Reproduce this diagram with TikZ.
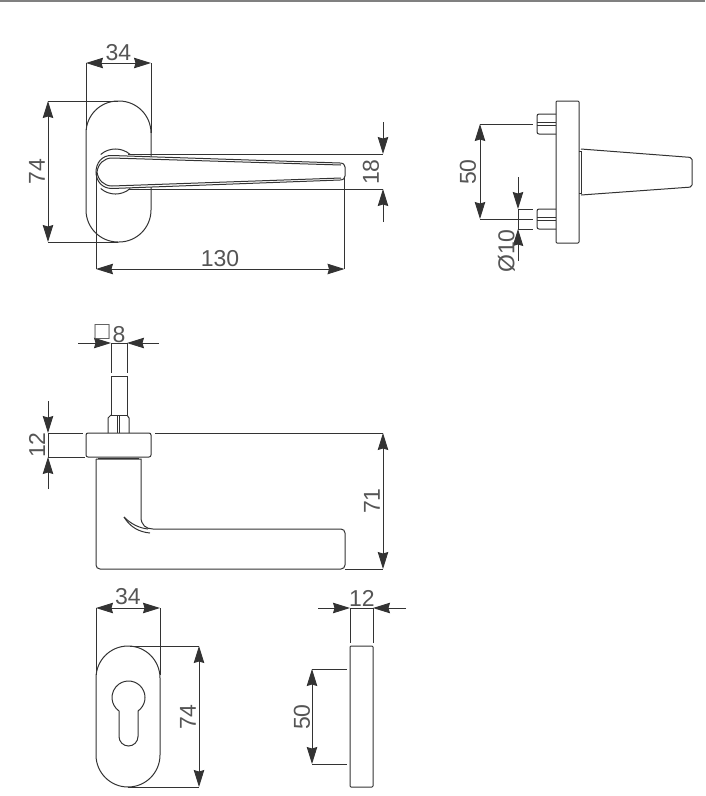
\documentclass[tikz,border=0pt]{standalone}
\usepackage{fontspec}
\setmainfont{Liberation Sans}
\usetikzlibrary{arrows.meta}
\definecolor{linegray}{HTML}{333333}
\definecolor{textgray}{HTML}{555555}
\tikzset{
    partline/.style={draw=linegray,line width=1pt},
    extline/.style={draw=linegray,line width=0.9pt},
    dimboth/.style={extline,{Stealth[length=17pt,width=10.5pt,inset=1.5pt]}-{Stealth[length=17pt,width=10.5pt,inset=1.5pt]}},
    dimend/.style={extline,-{Stealth[length=17pt,width=10.5pt,inset=1.5pt]}},
    dimlabel/.style={text=textgray,font=\fontsize{23}{25}\selectfont,inner sep=0pt},
    dimvert/.style={dimlabel,rotate=90}
}
\begin{document}
\begin{tikzpicture}[x=1pt,y=-1pt]
\useasboundingbox (0,0) rectangle (705,796);
\fill[gray] (0,0) rectangle (705,1.5);

% ----------------------------------------------------------
% Handle, front view
% ----------------------------------------------------------
\draw[partline,rounded corners=32pt] (86,101) rectangle (151,242);
\draw[partline] (100.7,154.5) arc (-131:-49:22.5);
\draw[partline] (100.7,188.5) arc (131:49:22.5);
\draw[partline,fill=white] (340,163) -- (112,155.5) .. controls (102,155) and (96,163) .. (96,172)
    .. controls (96,181) and (102,188.5) .. (112,188.5) -- (340,180)
    .. controls (343.5,180) and (345,178) .. (345,176) -- (345,167)
    .. controls (345,165) and (343.5,163) .. (340,163) -- cycle;
\draw[partline] (341,165) -- (112,158) .. controls (104,158) and (98,164) .. (97,172)
    .. controls (98,180) and (104,186) .. (112,186) -- (341,178);

% Extension lines
\draw[extline] (86,63) -- (86,130);
\draw[extline] (151,63) -- (151,133);
\draw[extline] (48,101) -- (118,101);
\draw[extline] (48,242) -- (118,242);
\draw[extline] (128,154) -- (383,154);
\draw[extline] (128,189) -- (383,189);
\draw[extline] (96,172) -- (96,269);
\draw[extline] (344.5,178) -- (344.5,269);

% Dimensions
\draw[dimboth] (86,63) -- (151,63);
\draw[dimboth] (48,101) -- (48,242);
\draw[dimboth] (96,269) -- (344.5,269);
\draw[dimend] (383,122) -- (383,154);
\draw[dimend] (383,222) -- (383,189);
\node[dimlabel] (lbltopwidth) at (118.5,52.5) {34};
\node[dimvert] (lbltopheight) at (37,171.5) {74};
\node[dimlabel] (lbltoplength) at (220,258.5) {130};
\node[dimvert] (lbltopgrip) at (371,172) {18};

% ----------------------------------------------------------
% Handle, side view with pins
% ----------------------------------------------------------
\draw[partline,rounded corners=1pt] (556,101) rectangle (579,243);
\draw[partline] (579,151) -- (581,151) -- (581,193) -- (579,193);
\draw[partline,rounded corners=2pt] (581,149) -- (692,157.5) -- (692,187) -- (581,195);

% Upper and lower pin
\foreach \y in {114,209} {
    \draw[partline,rounded corners=2pt] (556,\y) -- (537,\y) -- (537,\y+20) -- (556,\y+20);
    \draw[partline] (537,\y+8) -- (556,\y+8);
    \draw[partline] (537,\y+11) -- (556,\y+11);
}

% Extension lines
\draw[extline] (480,124) -- (533,124);
\draw[extline] (480,219) -- (533,219);
\draw[extline] (518,209) -- (533,209);
\draw[extline] (518,229) -- (533,229);

% Dimensions
\draw[dimboth] (480,124) -- (480,219);
\draw[dimend] (518,177) -- (518,209);
\draw[dimend] (518,261) -- (518,229);
\draw[extline] (518,209) -- (518,229);
\node[dimvert] (lblsidepins) at (468,172) {50};
\node[dimvert] (lblsidepin) at (506.5,251) {Ø10};

% ----------------------------------------------------------
% Handle, top view with spindle
% ----------------------------------------------------------
\draw[partline] (111,376) -- (127,376) -- (127,415) -- (111,415) -- cycle;
\draw[partline] (108,433) -- (108,418) -- (111,415);
\draw[partline] (129,433) -- (129,418) -- (127,415);
\draw[partline] (117,415) -- (117,433);
\draw[partline] (119,415) -- (119,433);
\draw[partline,rounded corners=2pt] (86,433) rectangle (151,457);
\draw[partline] (98,458) -- (139,458);
\draw[partline,rounded corners=4pt] (96,459) -- (96,569) -- (345,569) -- (345,529) -- (153,529);
\draw[partline] (153,529) .. controls (146,529) and (141,525) .. (141,517) -- (141,459) -- (96,459);

% Sickle at the neck
\draw[partline] (124,517) .. controls (130,527) and (139,532) .. (150,533);
\draw[partline] (124,517) .. controls (131,524) and (139,528) .. (148,529);

% Extension lines
\draw[extline] (111,343) -- (111,373);
\draw[extline] (127,343) -- (127,373);
\draw[extline] (48,433) -- (83,433);
\draw[extline] (48,457) -- (85,457);
\draw[extline] (155,433) -- (383,433);
\draw[extline] (345,569) -- (383,569);

% Dimensions
\draw[dimend] (78,343) -- (111,343);
\draw[dimend] (159,343) -- (127,343);
\draw[extline] (111,343) -- (127,343);
\draw[dimend] (48,401) -- (48,433);
\draw[dimend] (48,489) -- (48,457);
\draw[extline] (48,433) -- (48,457);
\draw[dimboth] (383,433) -- (383,569);
\node[dimlabel,anchor=base] (lblspindle) at (110,342) {\raisebox{2.5pt}{\fontsize{25}{26}\selectfont □}\hspace{3pt}8};
\node[dimvert] (lblplate) at (37,445) {12};
\node[dimvert] (lblheight) at (372,501) {71};

% ----------------------------------------------------------
% Escutcheon, front view
% ----------------------------------------------------------
\draw[partline,rounded corners=32pt] (96,646) rectangle (160,787);
\draw[partline] (138,711) arc (54.9:-234.9:16.5) -- (119,736.5) arc (180:0:9.5) -- cycle;

% Extension lines
\draw[extline] (96,608) -- (96,675);
\draw[extline] (160,608) -- (160,675);
\draw[extline] (130,646) -- (199,646);
\draw[extline] (128,787) -- (199,787);

% Dimensions
\draw[dimboth] (96,608) -- (160,608);
\draw[dimboth] (199,646) -- (199,787);
\node[dimlabel] (lblescwidth) at (128,597) {34};
\node[dimvert] (lblescheight) at (188,717) {74};

% ----------------------------------------------------------
% Escutcheon, side view
% ----------------------------------------------------------
\draw[partline,rounded corners=1pt] (350,646) rectangle (373,787);

% Extension lines
\draw[extline] (350,608) -- (350,643);
\draw[extline] (373,608) -- (373,643);
\draw[extline] (312,669) -- (347,669);
\draw[extline] (312,764) -- (347,764);

% Dimensions
\draw[dimend] (318,608) -- (350,608);
\draw[dimend] (406,608) -- (373,608);
\draw[extline] (350,608) -- (373,608);
\draw[dimboth] (312,669) -- (312,764);
\node[dimlabel] (lblescthick) at (362,598) {12};
\node[dimvert] (lblescpins) at (302,717) {50};

\end{tikzpicture}
\end{document}
